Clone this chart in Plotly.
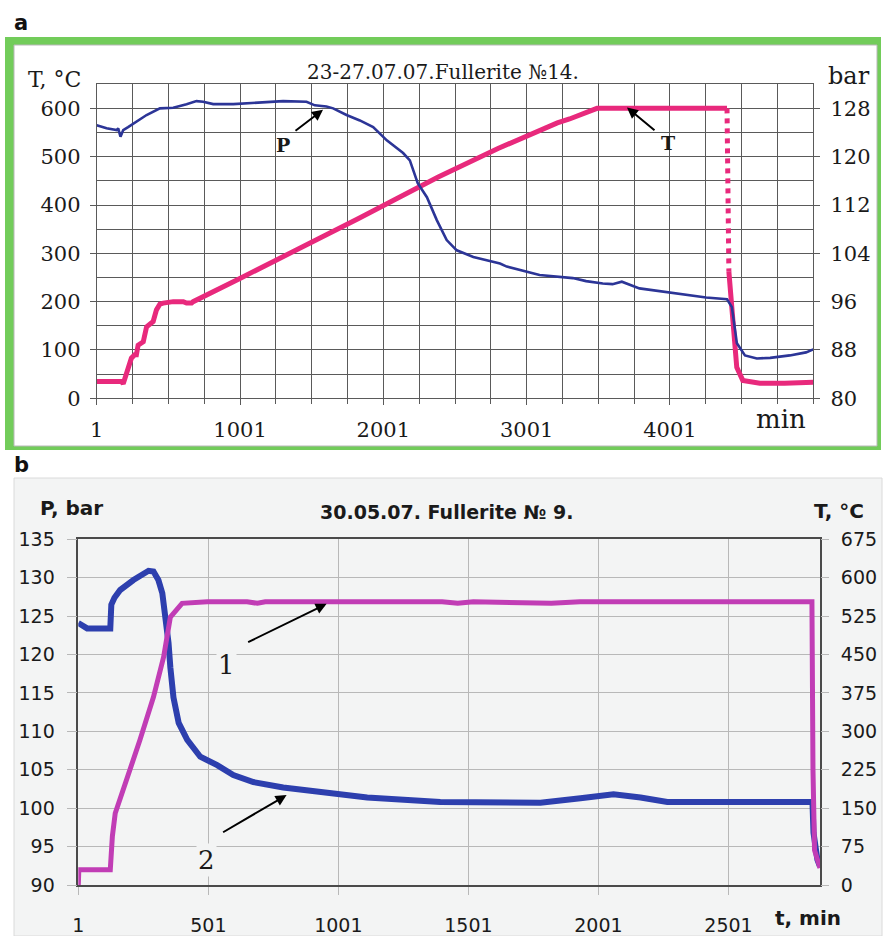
import plotly.graph_objects as go

W, H = 883, 936

# ---------------- Panel a data ----------------
a_T_min = [1, 100, 175, 186, 201, 220, 243, 266, 278, 290, 311, 326, 349, 372, 395, 418, 442, 465,
           535, 605, 628, 663, 674, 1000, 1500, 1828, 2384, 2801, 3215, 3300, 3492, 3700, 4000, 4399]
a_T_val = [35, 35, 35, 30, 45, 65, 83, 90, 90, 110, 115, 117, 148, 155, 159, 183, 195, 197,
           200, 200, 197, 197, 200, 248, 322, 372, 458, 517, 570, 578, 600, 600, 600, 600]
a_Tdrop_min = [4399, 4412]
a_Tdrop_val = [600, 262]
a_Ttail_min = [4412, 4440, 4467, 4509, 4628, 4800, 5001]
a_Ttail_val = [262, 150, 64, 37, 31, 31, 33]

a_P_min = [1, 70, 140, 151, 167, 186, 220, 278, 349, 442, 535, 628, 697, 744, 814, 954, 1186, 1302,
           1465, 1523, 1604, 1651, 1744, 1837, 1930, 2025, 2139, 2186, 2241, 2305, 2374, 2443, 2513,
           2629, 2815, 2862, 3091, 3323, 3416, 3532, 3600, 3665, 3788, 4020, 4253, 4399, 4433, 4468,
           4524, 4607, 4700, 4837, 4950, 5001]
a_P_val = [125.2, 124.7, 124.4, 124.7, 123.3, 124.4, 124.9, 125.8, 126.9, 128.0, 128.1, 128.7, 129.2,
           129.1, 128.7, 128.7, 129.1, 129.2, 129.1, 128.5, 128.3, 128.0, 126.9, 126.0, 124.9, 122.7,
           120.6, 119.4, 115.6, 113.3, 109.5, 106.2, 104.5, 103.4, 102.3, 101.8, 100.4, 99.9, 99.4,
           99.0, 98.9, 99.3, 98.2, 97.4, 96.7, 96.4, 95.1, 89.1, 87.1, 86.6, 86.7, 87.1, 87.6, 88.1]

a_xticks = [1, 1001, 2001, 3001, 4001]
a_yticks = [0, 100, 200, 300, 400, 500, 600]
a_y2ticks = [80, 88, 96, 104, 112, 120, 128]

# ---------------- Panel b data ----------------
b_P_min = [1, 35, 124, 128, 140, 162, 213, 251, 271, 290, 309, 324, 336, 348, 355, 367, 387, 420, 470,
           535, 597, 674, 789, 919, 1112, 1393, 1600, 1778, 1932, 2059, 2163, 2266, 2500, 2824, 2828,
           2843, 2853]
b_P_val = [124.1, 123.4, 123.4, 126.5, 127.4, 128.4, 129.7, 130.6, 130.9, 130.8, 129.7, 128.0, 124.9,
           121.5, 118.3, 114.4, 111.1, 108.9, 106.7, 105.6, 104.3, 103.4, 102.7, 102.1, 101.4, 100.8,
           100.7, 100.7, 101.3, 101.8, 101.4, 100.8, 100.8, 100.8, 96.8, 93.3, 92.4]

b_T_min = [1, 3, 124, 128, 132, 143, 188, 238, 290, 329, 355, 380, 400, 497, 650, 690, 720, 1400,
           1460, 1520, 1820, 1930, 2822, 2826, 2832, 2853]
b_T_val = [0, 30, 30, 75, 95, 140, 205, 283, 367, 445, 523, 537, 550, 553, 553, 550, 553, 553,
           550, 553, 550, 553, 553, 225, 68, 33]

b_xticks = [1, 501, 1001, 1501, 2001, 2501]

# ---------------- helpers ----------------
def px(x):
    return x / W

def py(y):
    return 1 - y / H

pink = "#e8297c"
blue_a = "#2c3597"
mag = "#c13db5"
blue_b = "#2d3fae"
serif = "DejaVu Serif"
sans = "DejaVu Sans"

fig = go.Figure()

# Panel a traces
fig.add_trace(go.Scatter(x=a_T_min, y=a_T_val, mode="lines", line=dict(color=pink, width=5),
                         xaxis="x", yaxis="y", hoverinfo="skip"))
fig.add_trace(go.Scatter(x=a_Tdrop_min, y=a_Tdrop_val, mode="lines",
                         line=dict(color=pink, width=5, dash="dot"), xaxis="x", yaxis="y"))
fig.add_trace(go.Scatter(x=a_Ttail_min, y=a_Ttail_val, mode="lines", line=dict(color=pink, width=5),
                         xaxis="x", yaxis="y"))
fig.add_trace(go.Scatter(x=a_P_min, y=a_P_val, mode="lines", line=dict(color=blue_a, width=2.6),
                         xaxis="x", yaxis="y2"))

# Panel b traces
fig.add_trace(go.Scatter(x=b_P_min, y=b_P_val, mode="lines", line=dict(color=blue_b, width=6),
                         xaxis="x2", yaxis="y3"))
fig.add_trace(go.Scatter(x=b_T_min, y=b_T_val, mode="lines", line=dict(color=mag, width=5),
                         xaxis="x2", yaxis="y4"))

grid_a = "#5a5a5a"
tick_a = dict(family=serif, size=21, color="#1a1a1a")
grid_b = "#b8b8b8"
tick_b = dict(family=sans, size=19, color="#1a1a1a")

fig.update_layout(
    template="none",
    width=W, height=H, margin=dict(l=0, r=0, t=0, b=0, pad=0), autosize=False,
    paper_bgcolor="white", plot_bgcolor="rgba(0,0,0,0)", showlegend=False,
    xaxis=dict(domain=[px(96.7), px(813.3)], range=[1, 5001], anchor="y", automargin=False,
               tickmode="array", tickvals=a_xticks, ticktext=[str(v) for v in a_xticks],
               showgrid=True, gridcolor=grid_a, gridwidth=1, zeroline=False,
               showline=True, linecolor=grid_a, mirror=True,
               ticks="outside", ticklen=6, tickcolor=grid_a, ticklabelstandoff=6,
               minor=dict(tick0=1, dtick=250, showgrid=True, gridcolor=grid_a, gridwidth=1,
                          ticks="outside", ticklen=5, tickcolor=grid_a),
               tickfont=tick_a, fixedrange=True),
    yaxis=dict(domain=[py(398.3), py(84.2)], range=[0, 650], anchor="x", automargin=False,
               tickmode="array", tickvals=a_yticks, ticktext=[str(v) for v in a_yticks],
               showgrid=True, gridcolor=grid_a, gridwidth=1, zeroline=False,
               showline=True, linecolor=grid_a, mirror=True,
               ticks="outside", ticklen=6, tickcolor=grid_a, ticklabelstandoff=5,
               minor=dict(tick0=0, dtick=50, showgrid=True, gridcolor=grid_a, gridwidth=1),
               tickfont=tick_a),
    yaxis2=dict(overlaying="y", side="right", anchor="x", range=[80, 132], automargin=False,
                tickmode="array", tickvals=a_y2ticks, ticktext=[str(v) for v in a_y2ticks],
                showgrid=False, zeroline=False, showline=False,
                ticks="outside", ticklen=6, tickcolor=grid_a, ticklabelstandoff=6,
                tickfont=tick_a),
    xaxis2=dict(domain=[px(78.3), px(820)], range=[1, 2853], anchor="y3", automargin=False,
                tickmode="array", tickvals=b_xticks, ticktext=[str(v) for v in b_xticks],
                showgrid=True, gridcolor=grid_b, gridwidth=1, zeroline=False,
                showline=True, linecolor="#4a4a4a", linewidth=1.5, mirror=True,
                ticks="outside", ticklen=8, tickcolor=grid_b, ticklabelstandoff=14,
                tickfont=tick_b),
    yaxis3=dict(domain=[py(885), py(539.3)], range=[90, 135], anchor="x2", automargin=False,
                tickmode="linear", tick0=90, dtick=5,
                showgrid=True, gridcolor=grid_b, gridwidth=1, zeroline=False,
                showline=True, linecolor="#4a4a4a", linewidth=1.5, mirror=True,
                ticks="outside", ticklen=10, tickcolor=grid_b, ticklabelstandoff=8,
                tickfont=tick_b),
    yaxis4=dict(overlaying="y3", side="right", anchor="x2", range=[0, 675], automargin=False,
                tickmode="linear", tick0=0, dtick=75,
                showgrid=False, zeroline=False, showline=False,
                ticks="outside", ticklen=8, tickcolor=grid_b, ticklabelstandoff=8,
                tickfont=tick_b),
)

shapes = [
    # panel a green frame
    dict(type="rect", xref="paper", yref="paper", x0=px(5), x1=px(881), y0=py(450), y1=py(37),
         fillcolor="#72cc5a", line=dict(width=0), layer="below"),
    dict(type="rect", xref="paper", yref="paper", x0=px(14), x1=px(877), y0=py(446), y1=py(45),
         fillcolor="white", line=dict(color="#b8b8b8", width=1), layer="below"),
    # panel b background
    dict(type="rect", xref="paper", yref="paper", x0=px(14), x1=px(882), y0=0, y1=py(478),
         fillcolor="#f3f4f4", line=dict(color="#dadada", width=1), layer="below"),
]
fig.update_layout(shapes=shapes)

ann = []
def txt(x, y, s, font, xref="paper", yref="paper", **kw):
    ann.append(dict(x=x, y=y, xref=xref, yref=yref, text=s, showarrow=False, font=font,
                    xanchor="center", yanchor="middle", **kw))

def arrow(x, y, ax, ay, xref, yref):
    ann.append(dict(x=x, y=y, xref=xref, yref=yref, ax=ax, ay=ay, text="", showarrow=True,
                    arrowhead=2, arrowsize=1.1, arrowwidth=2, arrowcolor="black", standoff=0))

# panel letters
txt(px(21), py(23), "<b>a</b>", dict(family=sans, size=21, color="#111"))
txt(px(21), py(465), "<b>b</b>", dict(family=sans, size=21, color="#111"))

# panel a text
txt(px(54), py(79), "T, °C", dict(family=serif, size=22, color="#1a1a1a"))
txt(px(443), py(72), "23-27.07.07.Fullerite №14.", dict(family=serif, size=20, color="#1a1a1a"))
txt(px(849), py(76), "bar", dict(family=serif, size=24, color="#1a1a1a"))
txt(px(781), py(419), "min", dict(family=serif, size=26, color="#1a1a1a"))
txt(1301, 524, "<b>P</b>", dict(family=serif, size=19, color="#1a1a1a"), xref="x", yref="y")
txt(3987, 528, "<b>T</b>", dict(family=serif, size=19, color="#1a1a1a"), xref="x", yref="y")
arrow(1580, 597, -29, 22, "x", "y")
arrow(3701, 602, 29, 24, "x", "y")

# panel b text
txt(px(71), py(508), "<b>P, bar</b>", dict(family=sans, size=20, color="#1a1a1a"))
txt(px(447), py(512), "<b>30.05.07. Fullerite № 9.</b>", dict(family=sans, size=19, color="#1a1a1a"))
txt(px(839), py(511), "<b>T, °C</b>", dict(family=sans, size=20, color="#1a1a1a"))
txt(px(808), py(918), "<b>t, min</b>", dict(family=sans, size=20, color="#1a1a1a"))
txt(572, 118.6, "1", dict(family=serif, size=26, color="#1a1a1a"), xref="x2", yref="y3",
    bgcolor="#f3f4f4")
txt(495, 93.3, "2", dict(family=serif, size=26, color="#1a1a1a"), xref="x2", yref="y3",
    bgcolor="#f3f4f4")
arrow(956, 126.6, -80, 39, "x2", "y3")
arrow(802, 101.7, -65, 38, "x2", "y3")

fig.update_layout(annotations=ann)
fig.write_html(
    "out.html",
    config={"displayModeBar": False},
    post_script="document.body.style.margin='0px';document.body.style.overflow='hidden';",
)
